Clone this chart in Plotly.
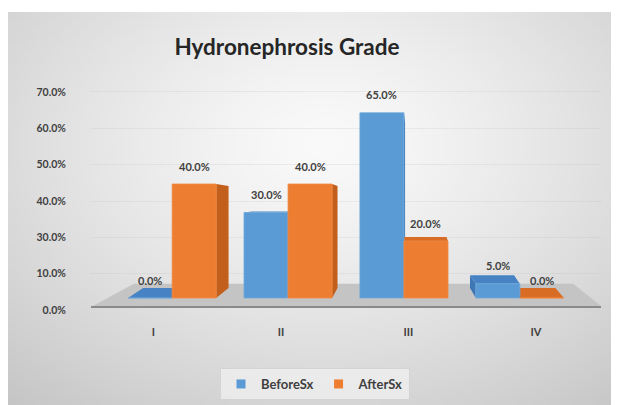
import base64, struct, zlib
import numpy as np
import plotly.graph_objects as go

# ---------------- data ----------------
categories = ["I", "II", "III", "IV"]
before_sx = [0.0, 30.0, 65.0, 5.0]
after_sx = [40.0, 40.0, 20.0, 0.0]
series_names = ["BeforeSx", "AfterSx"]
y_tick_labels = ["0.0%", "10.0%", "30.0%", "40.0%", "50.0%", "60.0%", "70.0%"]
title_text = "Hydronephrosis Grade"

# ---------------- style ----------------
FONT = "Lato"
TXT = "#404040"
BLUE, ORANGE = "#5b9bd5", "#ed7d31"
BLUE_SIDE, ORANGE_SIDE = "#3f76b4", "#c25f1d"
BLUE_TOP, ORANGE_TOP = "#4682c4", "#d96c25"
BAR_W = 0.38

# page has an 8px body margin, so the figure is sized to the visible area
OFF = 8
W, H = 619 - OFF, 405 - OFF
ML, MR, MT, MB = 83, 18, 72, 95
X_RANGE = [-0.7, 3.7]
Y_RANGE = [-4.21, 76.49]


def png_data_uri(arr):
    h, w, _ = arr.shape
    raw = b"".join(b"\x00" + arr[i].tobytes() for i in range(h))

    def chunk(tag, data):
        c = struct.pack(">I", len(data)) + tag + data
        return c + struct.pack(">I", zlib.crc32(tag + data) & 0xFFFFFFFF)

    png = b"\x89PNG\r\n\x1a\n" + chunk(b"IHDR", struct.pack(">IIBBBBB", w, h, 8, 2, 0, 0, 0))
    png += chunk(b"IDAT", zlib.compress(raw, 9)) + chunk(b"IEND", b"")
    return "data:image/png;base64," + base64.b64encode(png).decode()


# radial grey gradient background (frame area, page px 7..619 x 12..405)
gw, gh = 153, 98
yy, xx = np.mgrid[0:gh, 0:gw].astype(float)
fx, fy = xx * 612 / gw, yy * 393 / gh
r = np.sqrt(((fx - 315) / 420) ** 2 + ((fy - 130) / 300) ** 2)
val = 250 - 44 * np.clip(r, 0, 1.15) ** 1.3
bg = np.clip(np.stack([val, val, val], axis=-1), 0, 255).astype(np.uint8)
bg_uri = png_data_uri(bg)

pw, ph = W - ML - MR, H - MT - MB


def px_to_paper_x(page_px):
    return (page_px - OFF - ML) / pw


def px_to_paper_y(page_py):
    return (H - MB - (page_py - OFF)) / ph


fig = go.Figure()

# bars (front faces)
fig.add_trace(go.Bar(x=list(range(len(categories))), y=before_sx, width=BAR_W, offset=-BAR_W,
                     marker=dict(color=BLUE, line=dict(color="#6fa8dc", width=0.8)),
                     name=series_names[0], showlegend=False, hoverinfo="skip"))
fig.add_trace(go.Bar(x=list(range(len(categories))), y=after_sx, width=BAR_W, offset=0,
                     marker=dict(color=ORANGE, line=dict(color="#f08a45", width=0.8)),
                     name=series_names[1], showlegend=False, hoverinfo="skip"))

# legend entries
for nm, col in zip(series_names, [BLUE, ORANGE]):
    fig.add_trace(go.Scatter(x=[None], y=[None], mode="markers", name=nm,
                             marker=dict(symbol="square", size=9, color=col)))

# helper trace for label axes
fig.add_trace(go.Scatter(x=[None], y=[None], xaxis="x2", yaxis="y2", showlegend=False,
                         hoverinfo="skip"))

shapes = []
# floor slab
shapes.append(dict(type="path", xref="x", yref="y", layer="between",
                   path="M -0.7,-3.16 L 3.71,-3.16 L 3.46,5.0 L -0.33,5.0 Z",
                   fillcolor="#c4c4c4", line=dict(width=0)))
shapes.append(dict(type="line", xref="x", yref="y", layer="between",
                   x0=-0.7, x1=3.71, y0=-3.16, y1=-3.16, line=dict(color="#8a8a8a", width=2)))

# 3D side / top faces computed from values
VP_X, KS = 1.97, 0.06
EYE, KD = 33.1, 0.106
for vals, off, side_c, top_c in [(before_sx, -BAR_W, BLUE_SIDE, BLUE_TOP),
                                 (after_sx, 0.0, ORANGE_SIDE, ORANGE_TOP)]:
    for i, v in enumerate(vals):
        xl, xr = i + off, i + off + BAR_W
        xc = (xl + xr) / 2
        s = KS * (VP_X - xc)
        d0 = KD * EYE
        dv = KD * (EYE - v)
        edge = xr if s > 0 else xl
        shapes.append(dict(type="path", xref="x", yref="y", layer="between",
                           path=f"M {edge},0 L {edge + s},{d0} L {edge + s},{v + dv} L {edge},{v} Z",
                           fillcolor=side_c, line=dict(width=0)))
        if dv > 0:
            shapes.append(dict(type="path", xref="x", yref="y", layer="between",
                               path=f"M {xl},{v} L {xr},{v} L {xr + s},{v + dv} L {xl + s},{v + dv} Z",
                               fillcolor=top_c, line=dict(width=0)))

annotations = []
for vals, off in [(before_sx, -BAR_W), (after_sx, 0.0)]:
    for i, v in enumerate(vals):
        annotations.append(dict(x=i + off + BAR_W / 2, y=v, xref="x", yref="y",
                                text=f"{v:.1f}%", showarrow=False, yshift=18,
                                font=dict(family=FONT, size=11, color=TXT, weight="bold")))

fig.update_layout(
    width=W, height=H,
    margin=dict(l=ML, r=MR, t=MT, b=MB, autoexpand=False),
    paper_bgcolor="white", plot_bgcolor="rgba(0,0,0,0)",
    title=dict(text=title_text, x=(287 - OFF) / W, xanchor="center",
               y=1 - (47 - OFF) / H, yanchor="middle",
               xref="container", yref="container",
               font=dict(family=FONT, size=22.5, color="#262626", weight="bold")),
    barmode="overlay",
    showlegend=True,
    legend=dict(orientation="h", x=px_to_paper_x(315), xanchor="center",
                y=px_to_paper_y(368), yanchor="top",
                bgcolor="rgba(242,242,242,0.7)", bordercolor="#d4d4d4", borderwidth=1,
                font=dict(family=FONT, size=13, color=TXT, weight="bold"),
                itemwidth=30),
    xaxis=dict(range=X_RANGE, showticklabels=False, showgrid=False, zeroline=False,
               showline=False, fixedrange=True),
    yaxis=dict(range=Y_RANGE, showticklabels=False, showgrid=False, zeroline=False,
               showline=False),
    xaxis2=dict(overlaying="x", anchor="y2", side="bottom", range=[-0.49, 3.51],
                tickmode="array", tickvals=list(range(len(categories))), ticktext=categories,
                ticks="outside", ticklen=12, tickcolor="rgba(0,0,0,0)",
                showgrid=False, zeroline=False, showline=False,
                tickfont=dict(family=FONT, size=11, color=TXT, weight="bold")),
    yaxis2=dict(overlaying="y", anchor="x2", side="left", range=[0, 6.33],
                tickmode="array", tickvals=list(range(len(y_tick_labels))), ticktext=y_tick_labels,
                ticks="outside", ticklen=22, tickcolor="rgba(0,0,0,0)",
                showgrid=True, gridcolor="rgba(185,185,185,0.2)", gridwidth=1,
                zeroline=False, showline=False,
                tickfont=dict(family=FONT, size=10.5, color=TXT, weight="bold")),
    shapes=shapes,
    annotations=annotations,
    images=[dict(source=bg_uri, xref="paper", yref="paper",
                 x=px_to_paper_x(7), y=px_to_paper_y(12),
                 sizex=612 / pw, sizey=393 / ph,
                 sizing="stretch", layer="below", xanchor="left", yanchor="top")],
)

fig.write_html("out.html")
